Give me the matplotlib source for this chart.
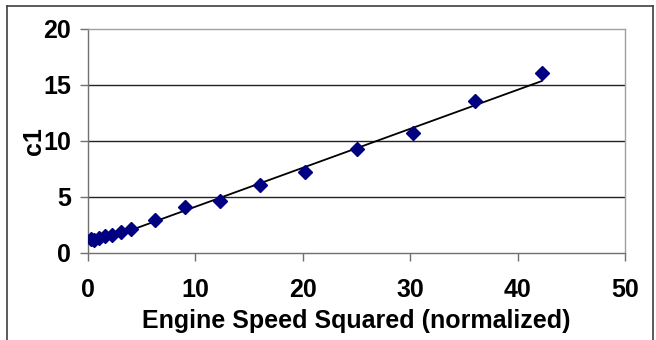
import numpy as np
import matplotlib.pyplot as plt
from matplotlib.lines import Line2D

# engine speed squared (normalized) and fitted coefficient c1
speed_sq = [0.25, 0.5625, 1.0, 1.5625, 2.25, 3.0625, 4.0, 6.25, 9.0,
            12.25, 16.0, 20.25, 25.0, 30.25, 36.0, 42.25]
c1 = [1.25, 1.2, 1.35, 1.5, 1.6, 1.85, 2.15, 2.95, 4.15,
      4.65, 6.05, 7.25, 9.25, 10.75, 13.6, 16.1]
# linear trend
trend_range = [4.0, 42.25]
trend_slope = 0.348
trend_intercept = 0.65
x_ticks = [0, 10, 20, 30, 40, 50]
y_ticks = [0, 5, 10, 15, 20]

plt.rcParams['font.family'] = ['Liberation Sans', 'DejaVu Sans']
plt.rcParams['font.weight'] = 'bold'

fig = plt.figure(figsize=(6.56, 3.4), dpi=100)
ax = fig.add_axes([88 / 656, 1 - 253 / 340, 537 / 656, 224 / 340])

xl = np.array(trend_range)
ax.plot(xl, trend_slope * xl + trend_intercept, color='black', lw=1.3, zorder=3)

ax.plot(speed_sq, c1, linestyle='none', marker='D', markersize=7.5,
        color='#000080', markeredgecolor='#000080', zorder=4)

ax.set_xlim(0, 50)
ax.set_ylim(0, 20)
ax.set_xticks(x_ticks)
ax.set_yticks(y_ticks)
for v in y_ticks[1:-1]:
    ax.axhline(v, color='#222222', lw=1.0, zorder=1)

for s in ['top', 'right']:
    ax.spines[s].set_color('#a0a0a0')
for s in ['left', 'bottom']:
    ax.spines[s].set_color('#707070')
for s in ax.spines.values():
    s.set_linewidth(1.0)

ax.tick_params(axis='both', direction='out', length=6, width=1.0,
               color='#707070', labelsize=18, labelcolor='black')
ax.tick_params(axis='x', pad=12)
ax.tick_params(axis='y', pad=6)

ax.set_xlabel('Engine Speed Squared (normalized)', fontsize=18,
              fontweight='bold', labelpad=5)
ax.set_ylabel('c1', fontsize=18, fontweight='bold')
ax.yaxis.set_label_coords(-0.079, 0.5)

# outer chart frame
fig.add_artist(Line2D([7 / 656, 7 / 656], [0, 1 - 6 / 340],
                      transform=fig.transFigure, color='#404040', lw=1.2))
fig.add_artist(Line2D([7 / 656, 653 / 656], [1 - 6 / 340, 1 - 6 / 340],
                      transform=fig.transFigure, color='#404040', lw=1.2))
fig.add_artist(Line2D([653 / 656, 653 / 656], [0, 1 - 6 / 340],
                      transform=fig.transFigure, color='#404040', lw=1.2))

fig.savefig('out.png', dpi=100)
